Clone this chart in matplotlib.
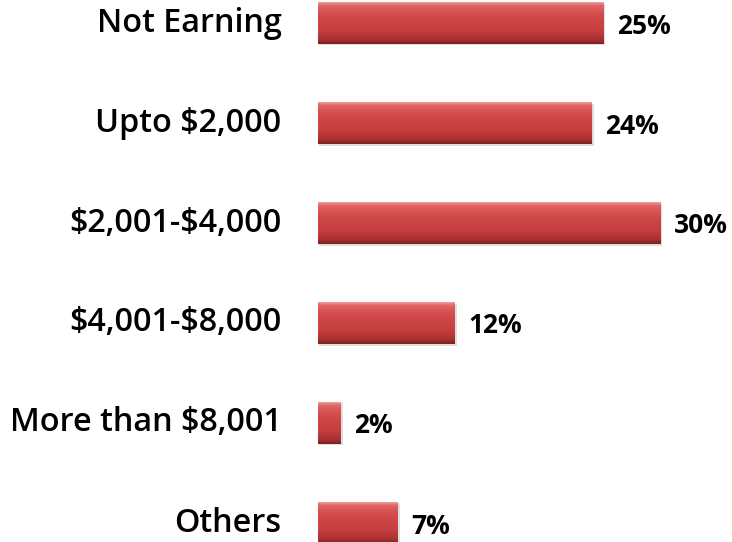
import matplotlib
matplotlib.use("Agg")
import matplotlib.pyplot as plt
import numpy as np
from matplotlib.colors import LinearSegmentedColormap

categories = ["Not Earning", "Upto $2,000", "$2,001-$4,000", "$4,001-$8,000",
              "More than $8,001", "Others"]
values = [25, 24, 30, 12, 2, 7]
value_labels = ["25%", "24%", "30%", "12%", "2%", "7%"]

fig = plt.figure(figsize=(7.32, 5.42), dpi=100)
ax = fig.add_axes([318/732, 0, 1 - 318/732, 1])
ax.set_xlim(0, 36.3)
ax.set_ylim(5.19, -0.23)
ax.axis("off")

y = np.arange(len(categories))
h = 0.42
bars = ax.barh(y, values, height=h, color="#c83c3c", edgecolor="none", zorder=2)

cmap = LinearSegmentedColormap.from_list("bev", [
    (0.0, "#f29a9a"), (0.08, "#e06464"), (0.3, "#d24a4a"),
    (0.7, "#c43e3e"), (0.9, "#a83030"), (1.0, "#7a2020")])
grad = np.linspace(0, 1, 100).reshape(-1, 1)
for i, (b, v) in enumerate(zip(bars, values)):
    yi = y[i]
    ax.barh(yi + 0.015, v + 0.12, height=h, left=0.05, color="#bfbfbf",
            alpha=0.5, zorder=1, edgecolor="none")
    im = ax.imshow(grad, cmap=cmap, aspect="auto",
                   extent=[0, v, yi + h/2, yi - h/2], zorder=3, interpolation="bilinear")
    im.set_clip_path(b)
    ax.text(v + 1.2, yi + 0.03, value_labels[i], ha="left", va="center",
            fontsize=19, fontweight="bold", family="Open Sans", color="#000000",
            parse_math=False)
    ax.text(-3.2, yi, categories[i], ha="right", va="center",
            fontsize=23.3, fontweight="semibold", family="Open Sans", color="#000000",
            clip_on=False, parse_math=False)

fig.savefig("out.png", dpi=100)
